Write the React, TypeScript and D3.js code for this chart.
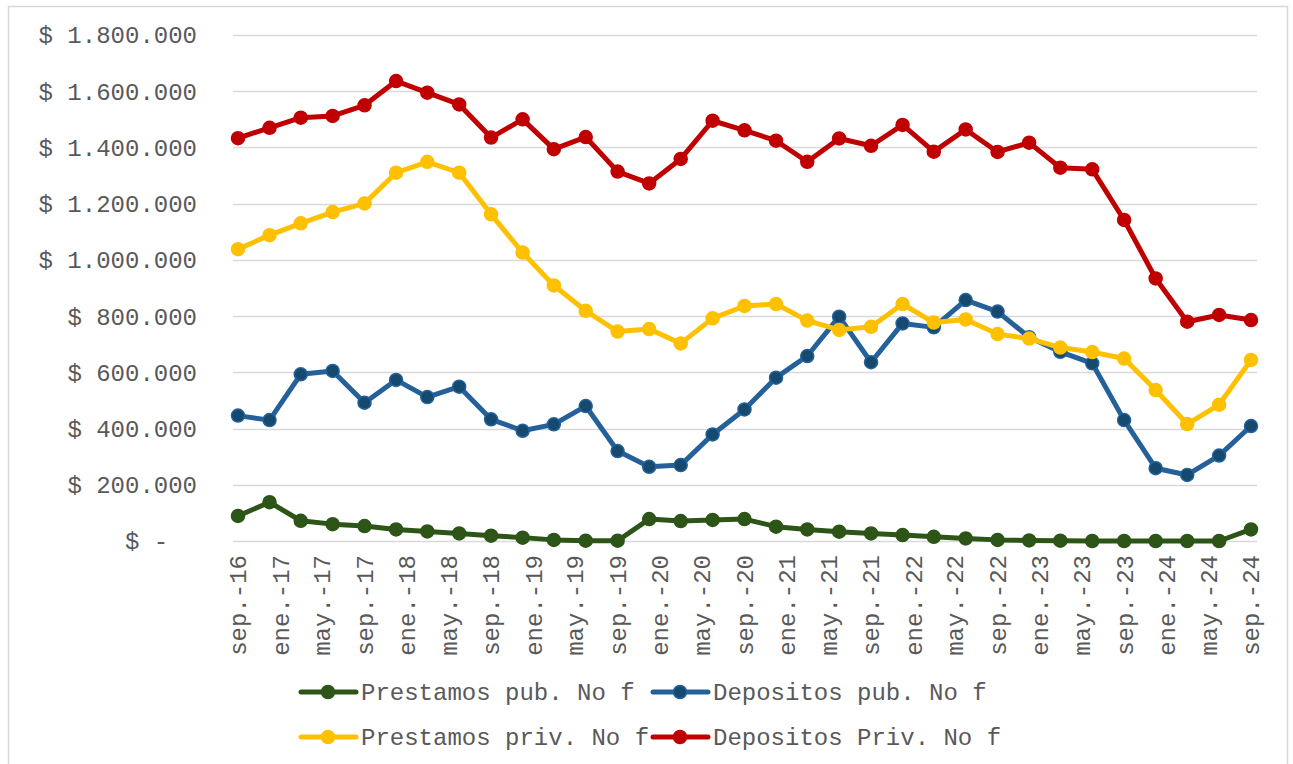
import React from "react";
import * as d3 from "d3";

const dates = [
  "2016-09", "2016-12", "2017-03", "2017-06", "2017-09", "2017-12", "2018-03", "2018-06",
  "2018-09", "2018-12", "2019-03", "2019-06", "2019-09", "2019-12", "2020-03", "2020-06",
  "2020-09", "2020-12", "2021-03", "2021-06", "2021-09", "2021-12", "2022-03", "2022-06",
  "2022-09", "2022-12", "2023-03", "2023-06", "2023-09", "2023-12", "2024-03", "2024-06",
  "2024-09",
];

const prestamosPub = [
  89000, 138000, 72000, 60000, 53000, 41000, 34000, 27000, 19000, 12000, 4000, 1000, 1000,
  78000, 71000, 75000, 78000, 51000, 41000, 33000, 27000, 21000, 15000, 9000, 4000, 2000,
  1000, 0, 0, 0, 0, 0, 41000,
];
const depositosPub = [
  446000, 430000, 593000, 605000, 492000, 573000, 512000, 549000, 433000, 392000, 415000,
  480000, 320000, 264000, 270000, 379000, 468000, 581000, 658000, 798000, 636000, 774000,
  760000, 857000, 816000, 725000, 673000, 632000, 430000, 259000, 235000, 304000, 409000,
];
const prestamosPriv = [
  1038000, 1088000, 1130000, 1170000, 1201000, 1310000, 1349000, 1310000, 1162000, 1026000,
  909000, 819000, 745000, 754000, 703000, 792000, 836000, 843000, 784000, 751000, 762000,
  843000, 777000, 788000, 736000, 720000, 688000, 672000, 649000, 537000, 416000, 485000,
  644000,
];
const depositosPriv = [
  1433000, 1470000, 1506000, 1512000, 1550000, 1636000, 1595000, 1553000, 1435000, 1500000,
  1394000, 1437000, 1314000, 1272000, 1359000, 1495000, 1461000, 1424000, 1349000, 1432000,
  1406000, 1480000, 1385000, 1464000, 1384000, 1417000, 1328000, 1322000, 1142000, 934000,
  780000, 804000, 786000,
];

const seriesNames = [
  "Prestamos pub. No f",
  "Depositos pub. No f",
  "Prestamos priv. No f",
  "Depositos Priv. No f",
];

const yTicks = [0, 200000, 400000, 600000, 800000, 1000000, 1200000, 1400000, 1600000, 1800000];

const FONT = "'Liberation Mono', 'Courier New', monospace";
const TEXT = "#595959";
const GRID = "#d9d9d9";

const esLocale = d3.timeFormatLocale({
  dateTime: "%A, %e de %B de %Y, %X",
  date: "%d/%m/%Y",
  time: "%H:%M:%S",
  periods: ["AM", "PM"],
  days: ["domingo", "lunes", "martes", "miércoles", "jueves", "viernes", "sábado"],
  shortDays: ["dom", "lun", "mar", "mié", "jue", "vie", "sáb"],
  months: ["enero", "febrero", "marzo", "abril", "mayo", "junio", "julio", "agosto", "septiembre", "octubre", "noviembre", "diciembre"],
  shortMonths: ["ene.", "feb.", "mar.", "abr.", "may.", "jun.", "jul.", "ago.", "sep.", "oct.", "nov.", "dic."],
});
const fmtDate = esLocale.format("%b-%y");
const numLocale = d3.formatLocale({ decimal: ",", thousands: ".", grouping: [3], currency: ["$", ""] });
const fmtNum = numLocale.format(",.0f");

export default function App() {
  const parse = d3.timeParse("%Y-%m");
  const ds = dates.map((d) => parse(d) as Date);

  const x = d3.scaleTime().domain([ds[0], ds[ds.length - 1]]).range([238, 1251]);
  const y = d3.scaleLinear().domain([0, 1800000]).range([541, 35]);

  const xTicks = d3.timeMonth.every(4)!.range(ds[0], d3.timeDay.offset(ds[ds.length - 1], 1));

  const series = [
    { name: seriesNames[0], values: prestamosPub, line: "#2C5517", fill: "#2C5517", stroke: "#2C5517" },
    { name: seriesNames[1], values: depositosPub, line: "#24609A", fill: "#154A6E", stroke: "#24609A" },
    { name: seriesNames[2], values: prestamosPriv, line: "#FFC000", fill: "#FFC000", stroke: "#FFC000" },
    { name: seriesNames[3], values: depositosPriv, line: "#C00000", fill: "#C00000", stroke: "#C00000" },
  ];

  const lineGen = d3
    .line<number>()
    .x((_, i) => x(ds[i]))
    .y((v) => y(v));

  const legendPos = [
    { lx: 301, ty: 692, tx: 361 },
    { lx: 653, ty: 692, tx: 713 },
    { lx: 301, ty: 737, tx: 361 },
    { lx: 653, ty: 737, tx: 713 },
  ];

  return (
    <div style={{ position: "absolute", left: 0, top: 0 }}>
      <svg width={1293} height={764} style={{ display: "block", background: "#fff" }}>
        <rect x={8.5} y={6.5} width={1279} height={770} fill="#fff" stroke={GRID} strokeWidth={1.5} />
        {yTicks.map((t) => (
          <g key={t}>
            <line x1={233} x2={1257} y1={Math.round(y(t)) + 0.5} y2={Math.round(y(t)) + 0.5} stroke={GRID} strokeWidth={1.5} />
            <text
              x={197}
              y={y(t)}
              dy="0.35em"
              textAnchor="end"
              fontFamily={FONT}
              fontSize={24}
              fill={TEXT}
              style={{ whiteSpace: "pre" }}
            >
              {t === 0 ? "$ -  " : "$ " + fmtNum(t)}
            </text>
          </g>
        ))}
        {xTicks.map((d, i) => (
          <text
            key={i}
            transform={`translate(${x(d)},555) rotate(-90)`}
            dy="0.35em"
            textAnchor="end"
            fontFamily={FONT}
            fontSize={24}
            fill={TEXT}
          >
            {fmtDate(d)}
          </text>
        ))}
        {series.map((s) => (
          <g key={s.name}>
            <path d={lineGen(s.values) || ""} fill="none" stroke={s.line} strokeWidth={5} strokeLinejoin="round" strokeLinecap="round" />
            {s.values.map((v, i) => (
              <circle key={i} cx={x(ds[i])} cy={y(v)} r={6.5} fill={s.fill} stroke={s.stroke} strokeWidth={1.5} />
            ))}
          </g>
        ))}
        {series.map((s, i) => {
          const p = legendPos[i];
          return (
            <g key={"lg" + i}>
              <line x1={p.lx} x2={p.lx + 55} y1={p.ty} y2={p.ty} stroke={s.line} strokeWidth={5} strokeLinecap="round" />
              <circle cx={p.lx + 27} cy={p.ty} r={6.5} fill={s.fill} stroke={s.stroke} strokeWidth={1.5} />
              <text x={p.tx} y={p.ty} dy="0.35em" fontFamily={FONT} fontSize={24} fill={TEXT}>
                {s.name}
              </text>
            </g>
          );
        })}
      </svg>
    </div>
  );
}
